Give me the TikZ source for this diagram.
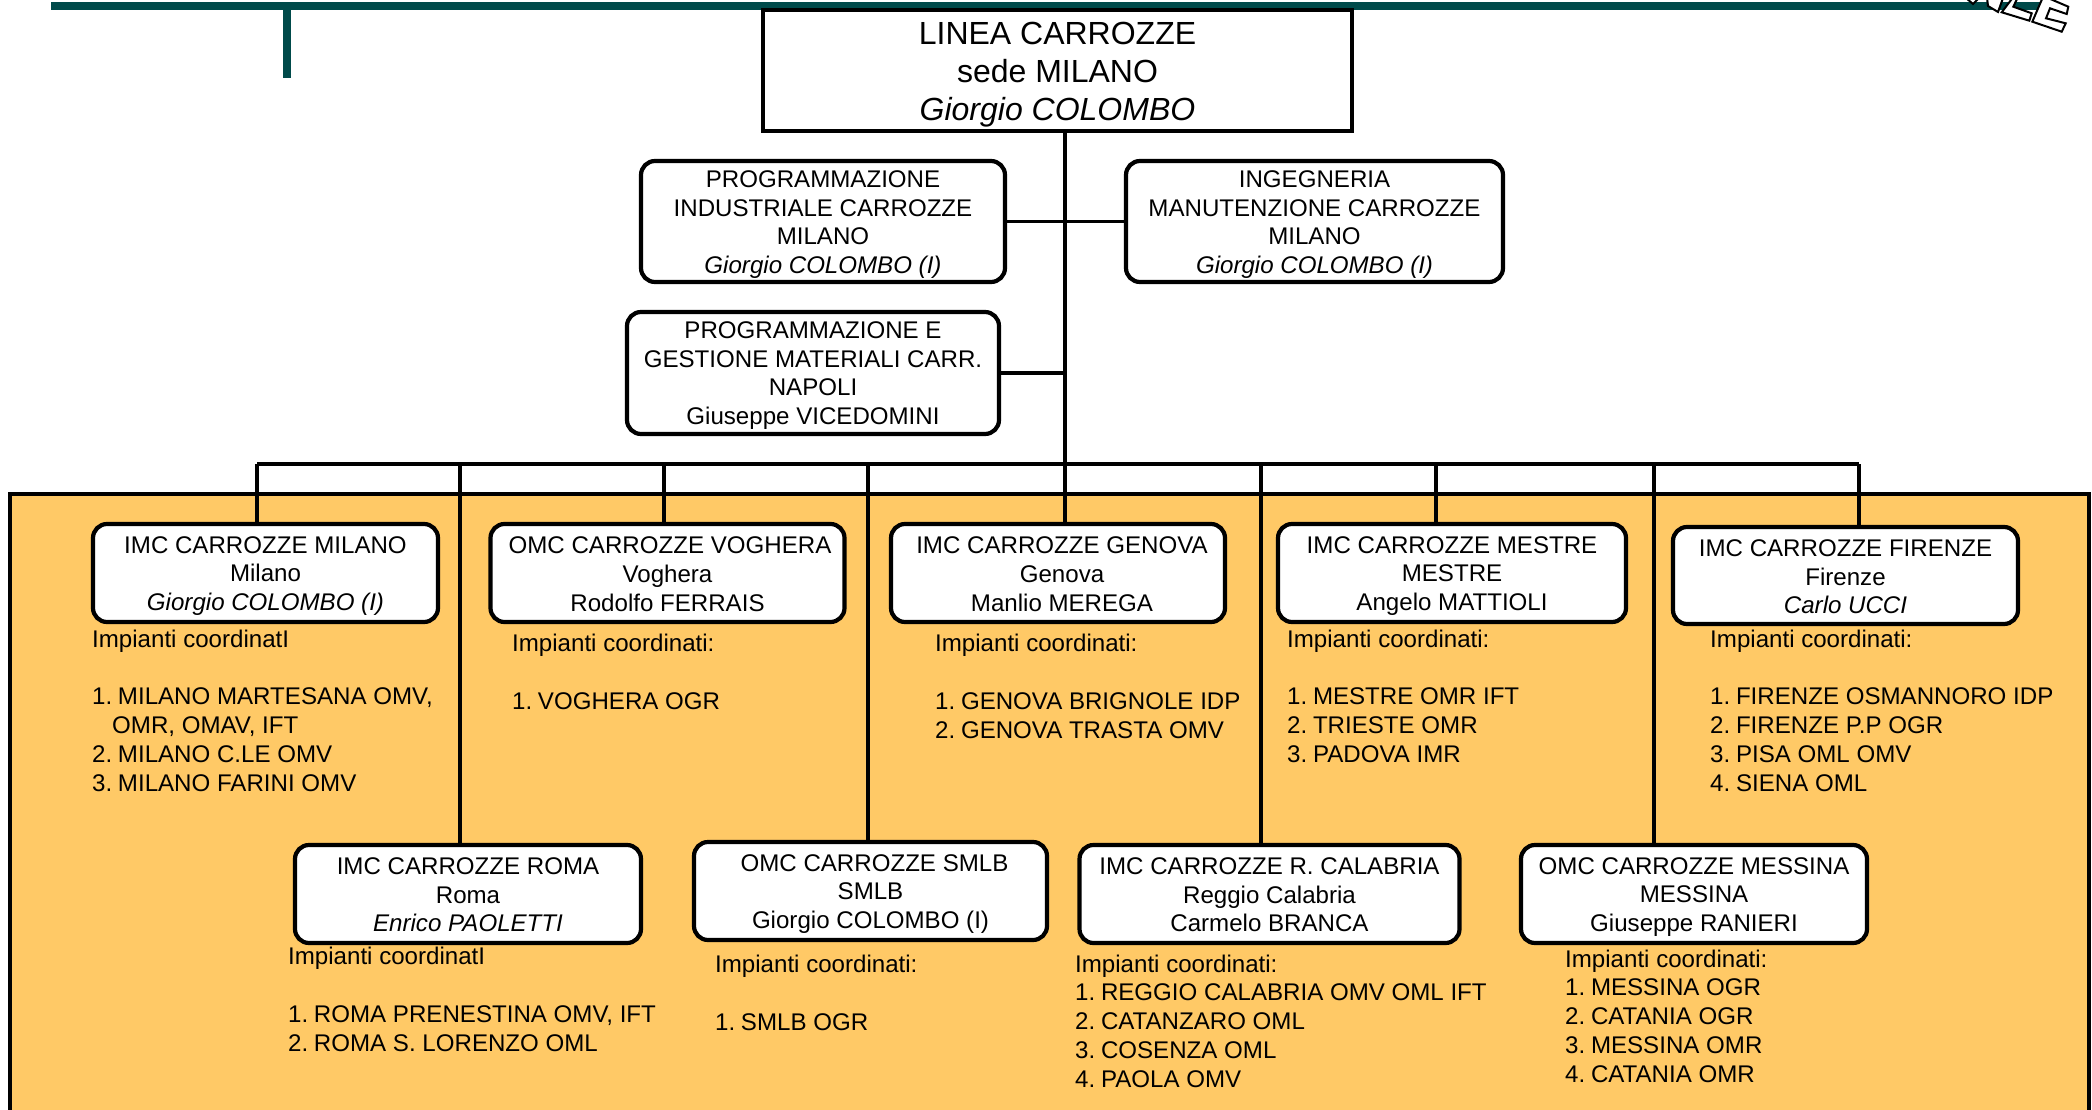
\documentclass[tikz,border=0pt]{standalone}
\usepackage{fontspec}
\setmainfont{Liberation Sans}
\definecolor{panelfill}{RGB}{255,201,102}
\definecolor{barteal}{RGB}{0,74,74}
\newcommand\lowertxt[1]{\rule{0pt}{#1}}
\newcommand\itm[1]{#1.\kern-1pt\ }
\tikzset{
  txt/.style={font=\fontsize{24.1}{28.7}\selectfont},
  orgbox/.style={draw=black,fill=white,line width=4.2pt,rounded corners=14pt,inner sep=0pt,align=center,txt},
  topbox/.style={draw=black,fill=white,line width=4.5pt,inner sep=0pt,align=center,font=\fontsize{32}{38}\selectfont},
  listtxt/.style={anchor=base west,inner sep=0pt,align=left,txt},
  conn/.style={draw=black,line width=3.9pt},
  logoletter/.style={draw=black,fill=white,line width=2pt,line join=miter}
}
\begin{document}
\begin{tikzpicture}[x=1pt,y=-1pt]
\clip (0,0) rectangle (2092,1110);
% header bar
\fill[barteal] (51,2) rectangle (2040,10);
\fill[barteal] (283,10) rectangle (291,78);
% logo fragments
\path[logoletter] (1966,-2) -- (1973,4) -- (1979,-2) -- cycle;
\path[logoletter] (1987,-2) -- (1988,6) -- (1998,12) -- (2003,-2) -- cycle;
\path[logoletter] (2012.5,-2) -- (2001.7,12.3) -- (2029.3,20.7) -- (2031.7,13.3) -- (2013.3,6.7) -- (2017.5,-2) -- cycle;
\path[logoletter] (2042.5,-2) -- (2032.3,21.7) -- (2061.7,31.7) -- (2065.7,23.3) -- (2046,18.3) -- (2050,8.3) -- (2066.7,14) -- (2068.3,6.7) -- (2048,-2) -- cycle;
% panel
\path[draw=black,fill=panelfill,line width=4pt] (10,494) rectangle (2089,1130);
% coordinates of the bus
\coordinate (busL) at (257,464);
\coordinate (busR) at (1859,464);
\coordinate (dRoma) at (460,464);
\coordinate (dVog) at (664,464);
\coordinate (dSmlb) at (868,464);
\coordinate (dGen) at (1065,464);
\coordinate (dCal) at (1261,464);
\coordinate (dMes) at (1436,464);
\coordinate (dMsn) at (1654,464);
% boxes
\node[topbox,minimum width=589pt,minimum height=121pt] (top) at (1057.5,70.5) {\lowertxt{31pt}LINEA CARROZZE\\sede MILANO\\\itshape Giorgio COLOMBO};
\node[orgbox,minimum width=364pt,minimum height=121pt] (pi) at (823,221.5) {\lowertxt{23pt}PROGRAMMAZIONE\\INDUSTRIALE CARROZZE\\MILANO\\\itshape Giorgio COLOMBO (I)};
\node[orgbox,minimum width=377pt,minimum height=121pt] (im) at (1314.5,221.5) {\lowertxt{23pt}INGEGNERIA\\MANUTENZIONE CARROZZE\\MILANO\\\itshape Giorgio COLOMBO (I)};
\node[orgbox,minimum width=372pt,minimum height=122pt] (pg) at (813,373) {\lowertxt{22pt}PROGRAMMAZIONE E\\GESTIONE MATERIALI CARR.\\NAPOLI\\Giuseppe VICEDOMINI};
\node[orgbox,minimum width=345pt,minimum height=98pt] (milano) at (265.5,573) {\lowertxt{22.4pt}IMC CARROZZE MILANO\\Milano\\\itshape Giorgio COLOMBO (I)};
\node[orgbox,minimum width=354pt,minimum height=98pt] (voghera) at (667.5,573) {\lowertxt{19.6pt}\hspace*{5pt}OMC CARROZZE VOGHERA\\Voghera\\Rodolfo FERRAIS};
\node[orgbox,minimum width=334pt,minimum height=98pt] (genova) at (1058,573) {\lowertxt{19.6pt}\hspace*{8pt}IMC CARROZZE GENOVA\\\hspace*{8pt}Genova\\\hspace*{8pt}Manlio MEREGA};
\node[orgbox,minimum width=348pt,minimum height=98pt] (mestre) at (1452,573) {\lowertxt{22.4pt}IMC CARROZZE MESTRE\\MESTRE\\Angelo MATTIOLI};
\node[orgbox,minimum width=345pt,minimum height=97pt] (firenze) at (1845.5,575.5) {\lowertxt{19.6pt}IMC CARROZZE FIRENZE\\Firenze\\\itshape Carlo UCCI};
\node[orgbox,minimum width=346pt,minimum height=98pt] (roma) at (468,894) {\lowertxt{18.4pt}IMC CARROZZE ROMA\\Roma\\\itshape Enrico PAOLETTI};
\node[orgbox,minimum width=353pt,minimum height=98pt] (smlb) at (870.5,891) {\lowertxt{22.4pt}\hspace*{8pt}OMC CARROZZE SMLB\\SMLB\\Giorgio COLOMBO (I)};
\node[orgbox,minimum width=380pt,minimum height=98pt] (calabria) at (1269.5,894) {\lowertxt{18.4pt}IMC CARROZZE R. CALABRIA\\Reggio Calabria\\Carmelo BRANCA};
\node[orgbox,minimum width=346pt,minimum height=98pt] (messina) at (1694,894) {\lowertxt{22.4pt}OMC CARROZZE MESSINA\\MESSINA\\Giuseppe RANIERI};
% connectors
\path[conn] (top.south -| dGen) -- (dGen);
\path[conn] (pi.east) -- (im.west);
\path[conn] (pg.east) -- (pg.east -| dGen);
\path[conn] (busL) -- (busR);
\path[conn] (busL) -- (busL |- milano.north);
\path[conn] (dRoma) -- (dRoma |- roma.north);
\path[conn] (dVog) -- (dVog |- voghera.north);
\path[conn] (dSmlb) -- (dSmlb |- smlb.north);
\path[conn] (dGen) -- (dGen |- genova.north);
\path[conn] (dCal) -- (dCal |- calabria.north);
\path[conn] (dMes) -- (dMes |- mestre.north);
\path[conn] (dMsn) -- (dMsn |- messina.north);
\path[conn] (busR) -- (busR |- firenze.north);
% lists (positioned by the baseline of the last line)
\node[listtxt] (lMilano) at (92,791) {Impianti coordinatI\\[28.7pt]\itm1MILANO MARTESANA OMV,\\\hspace*{20pt}OMR, OMAV, IFT\\\itm2MILANO C.LE OMV\\\itm3MILANO FARINI OMV};
\node[listtxt] (lVoghera) at (512,709) {Impianti coordinati:\\[28.7pt]\itm1VOGHERA OGR};
\node[listtxt] (lGenova) at (935,738) {Impianti coordinati:\\[28.7pt]\itm1GENOVA BRIGNOLE IDP\\\itm2GENOVA TRASTA OMV};
\node[listtxt] (lMestre) at (1287,762) {Impianti coordinati:\\[28.7pt]\itm1MESTRE OMR IFT\\\itm2TRIESTE OMR\\\itm3PADOVA IMR};
\node[listtxt] (lFirenze) at (1710,791) {Impianti coordinati:\\[28.7pt]\itm1FIRENZE OSMANNORO IDP\\\itm2FIRENZE P.P OGR\\\itm3PISA OML OMV\\\itm4SIENA OML};
\node[listtxt] (lRoma) at (288,1051) {Impianti coordinatI\\[28.7pt]\itm1ROMA PRENESTINA OMV, IFT\\\itm2ROMA S. LORENZO OML};
\node[listtxt] (lSmlb) at (715,1030) {Impianti coordinati:\\[28.7pt]\itm1SMLB OGR};
\node[listtxt] (lCalabria) at (1075,1087) {Impianti coordinati:\\\itm1REGGIO CALABRIA OMV OML IFT\\\itm2CATANZARO OML\\\itm3COSENZA OML\\\itm4PAOLA OMV};
\node[listtxt] (lMessina) at (1565,1082) {Impianti coordinati:\\\itm1MESSINA OGR\\\itm2CATANIA OGR\\\itm3MESSINA OMR\\\itm4CATANIA OMR};
\end{tikzpicture}
\end{document}
